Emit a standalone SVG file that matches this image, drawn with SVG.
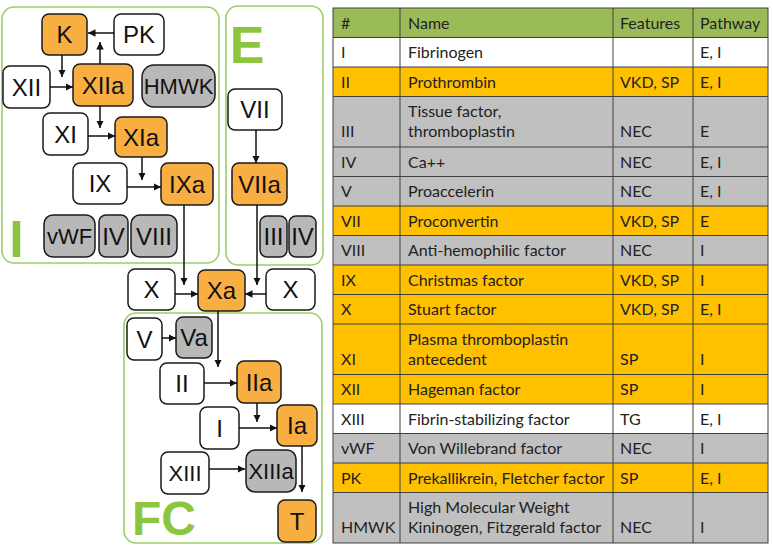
<svg xmlns="http://www.w3.org/2000/svg" width="773" height="553" viewBox="0 0 773 553">
<style>
.grp{fill:none;stroke:#9ccd6a;stroke-width:1.6}
.glbl{font-family:"Liberation Sans",Arial,sans-serif;font-weight:bold;fill:#8cc63f}
.n rect{stroke:#1a1a1a;stroke-width:1.5}
.w rect{fill:#ffffff}
.o rect{fill:#f9ae42}
.g rect{fill:#b8b8b8}
.n text{font-family:"Liberation Sans",Arial,sans-serif;font-size:24px;fill:#111;text-anchor:middle}
.n text.s{font-size:22px}
.c path{fill:none;stroke:#111;stroke-width:1.5;marker-end:url(#ah)}
.tb text{font-family:Lato,"Open Sans",sans-serif;font-size:16px;fill:#222}
.rg{fill:#9bbb59}.ro{fill:#ffc000}.rw{fill:#ffffff}.rs{fill:#c0c0c0}
.gl{stroke:#404040;stroke-width:1;fill:none}
</style>
<defs>
<marker id="ah" viewBox="0 0 8 8" refX="8" refY="4" markerWidth="7.5" markerHeight="7.5" markerUnits="userSpaceOnUse" orient="auto">
<path d="M0,0 L8,4 L0,8 z" fill="#111"/>
</marker>
</defs>
<rect width="773" height="553" fill="#ffffff"/>

<!-- pathway groups -->
<g id="group-I">
<rect class="grp" x="2" y="7" width="217" height="256" rx="12"/>
<text class="glbl" x="16.5" y="257" font-size="52" text-anchor="middle">I</text>
</g>
<g id="group-E">
<rect class="grp" x="226" y="6" width="97" height="259" rx="12"/>
<text class="glbl" x="247" y="63" font-size="52" text-anchor="middle">E</text>
</g>
<g id="group-FC">
<rect class="grp" x="124" y="313" width="198" height="230" rx="12"/>
<text class="glbl" x="164" y="535" font-size="48" text-anchor="middle">FC</text>
</g>

<!-- nodes -->
<g id="n-K" class="n o"><rect x="42" y="14" width="45" height="41" rx="7"/><text x="64.5" y="43">K</text></g>
<g id="n-PK" class="n w"><rect x="114" y="14" width="50" height="41" rx="7"/><text x="139" y="43">PK</text></g>
<g id="n-XII" class="n w"><rect x="3" y="66" width="47" height="42" rx="7"/><text x="26.5" y="95.5">XII</text></g>
<g id="n-XIIa" class="n o"><rect x="73" y="64" width="60" height="42" rx="7"/><text x="103" y="93.5">XIIa</text></g>
<g id="n-HMWK" class="n g"><rect x="142" y="65" width="73" height="42" rx="12"/><text class="s" x="178.5" y="94">HMWK</text></g>
<g id="n-XI" class="n w"><rect x="43" y="113" width="45" height="42" rx="7"/><text x="65.5" y="142.5">XI</text></g>
<g id="n-XIa" class="n o"><rect x="115" y="117" width="52" height="40" rx="7"/><text x="141" y="145.5">XIa</text></g>
<g id="n-IX" class="n w"><rect x="73" y="163" width="54" height="41" rx="7"/><text x="100" y="192">IX</text></g>
<g id="n-IXa" class="n o"><rect x="161" y="163" width="52" height="42" rx="7"/><text x="187" y="192.5">IXa</text></g>
<g id="n-vWF" class="n g"><rect x="44" y="215" width="51" height="42" rx="9"/><text class="s" x="69.5" y="244">vWF</text></g>
<g id="n-IV-i" class="n g"><rect x="99" y="215" width="29" height="42" rx="7"/><text x="113.5" y="244.5">IV</text></g>
<g id="n-VIII" class="n g"><rect x="131" y="215" width="46" height="42" rx="9"/><text x="154" y="244.5">VIII</text></g>
<g id="n-VII" class="n w"><rect x="228" y="89" width="54" height="41" rx="7"/><text x="255" y="118">VII</text></g>
<g id="n-VIIa" class="n o"><rect x="232" y="163" width="55" height="42" rx="7"/><text x="259.5" y="192.5">VIIa</text></g>
<g id="n-III-e" class="n g"><rect x="260" y="216" width="27" height="41" rx="7"/><text x="273.5" y="245">III</text></g>
<g id="n-IV-e" class="n g"><rect x="289" y="216" width="27" height="41" rx="7"/><text x="302.5" y="245">IV</text></g>
<g id="n-X-l" class="n w"><rect x="128" y="269" width="47" height="41" rx="7"/><text x="151.5" y="298">X</text></g>
<g id="n-Xa" class="n o"><rect x="198" y="270" width="47" height="41" rx="7"/><text x="221.5" y="299">Xa</text></g>
<g id="n-X-r" class="n w"><rect x="266" y="269" width="49" height="41" rx="7"/><text x="290.5" y="298">X</text></g>
<g id="n-V" class="n w"><rect x="127" y="318" width="35" height="42" rx="7"/><text x="144.5" y="347.5">V</text></g>
<g id="n-Va" class="n g"><rect x="176" y="317" width="36" height="41" rx="7"/><text x="194" y="346">Va</text></g>
<g id="n-II" class="n w"><rect x="160" y="363" width="44" height="41" rx="7"/><text x="182" y="392">II</text></g>
<g id="n-IIa" class="n o"><rect x="237" y="361" width="44" height="42" rx="7"/><text x="259" y="390.5">IIa</text></g>
<g id="n-I" class="n w"><rect x="200" y="407" width="39" height="42" rx="7"/><text x="219.5" y="436.5">I</text></g>
<g id="n-Ia" class="n o"><rect x="277" y="405" width="40" height="41" rx="7"/><text x="297" y="434">Ia</text></g>
<g id="n-XIII" class="n w"><rect x="161" y="452" width="48" height="42" rx="7"/><text class="s" x="185" y="481">XIII</text></g>
<g id="n-XIIIa" class="n g"><rect x="246" y="450" width="50" height="42" rx="9"/><text class="s" x="271" y="479">XIIIa</text></g>
<g id="n-T" class="n o"><rect x="278" y="500" width="38" height="42" rx="7"/><text x="297" y="529.5">T</text></g>

<!-- connectors -->
<g id="connectors" class="c">
<path d="M114,33 H88"/>
<path d="M100,64 V42"/>
<path d="M62,55 V77"/>
<path d="M50,87 H73"/>
<path d="M100,106 V128"/>
<path d="M88,136 H115"/>
<path d="M142,157 V180"/>
<path d="M127,187 H161"/>
<path d="M184,205 V285"/>
<path d="M175,294 H198"/>
<path d="M256,130 V163"/>
<path d="M257,205 V285"/>
<path d="M266,294 H245"/>
<path d="M218,311 V367"/>
<path d="M162,338 H176"/>
<path d="M204,383 H237"/>
<path d="M257,403 V422"/>
<path d="M239,428 H277"/>
<path d="M209,469 H245"/>
<path d="M302,446 V492"/>
</g>

<!-- table -->
<g id="table" class="tb">
<rect class="rg" x="333" y="8" width="435" height="29.5"/>
<rect class="rw" x="333" y="37.5" width="435" height="29.5"/>
<rect class="ro" x="333" y="67" width="435" height="29.5"/>
<rect class="rs" x="333" y="96.5" width="435" height="50.5"/>
<rect class="rs" x="333" y="147" width="435" height="29.5"/>
<rect class="rs" x="333" y="176.5" width="435" height="29.5"/>
<rect class="ro" x="333" y="206" width="435" height="29.5"/>
<rect class="rs" x="333" y="235.5" width="435" height="29.5"/>
<rect class="ro" x="333" y="265" width="435" height="29.5"/>
<rect class="ro" x="333" y="294.5" width="435" height="29.5"/>
<rect class="ro" x="333" y="324" width="435" height="50.5"/>
<rect class="ro" x="333" y="374.5" width="435" height="29.5"/>
<rect class="rw" x="333" y="404" width="435" height="29.5"/>
<rect class="rs" x="333" y="433.5" width="435" height="29.5"/>
<rect class="ro" x="333" y="463" width="435" height="29.5"/>
<rect class="rs" x="333" y="492.5" width="435" height="50.5"/>
<path class="gl" d="M333,37.5 H768 M333,67 H768 M333,96.5 H768 M333,147 H768 M333,176.5 H768 M333,206 H768 M333,235.5 H768 M333,265 H768 M333,294.5 H768 M333,324 H768 M333,374.5 H768 M333,404 H768 M333,433.5 H768 M333,463 H768 M333,492.5 H768 M400,8 V543 M613,8 V543 M693,8 V543"/>
<rect class="gl" x="333" y="8" width="435" height="535" stroke-width="1.5"/>

<text x="341" y="29">#</text><text x="408" y="29">Name</text><text x="620" y="29">Features</text><text x="700" y="29">Pathway</text>
<text x="341" y="58">I</text><text x="408" y="58">Fibrinogen</text><text x="700" y="58">E, I</text>
<text x="341" y="87.5">II</text><text x="408" y="87.5">Prothrombin</text><text x="620" y="87.5">VKD, SP</text><text x="700" y="87.5">E, I</text>
<text x="408" y="117">Tissue factor,</text><text x="341" y="137">III</text><text x="408" y="137">thromboplastin</text><text x="620" y="137">NEC</text><text x="700" y="137">E</text>
<text x="341" y="167.5">IV</text><text x="408" y="167.5">Ca++</text><text x="620" y="167.5">NEC</text><text x="700" y="167.5">E, I</text>
<text x="341" y="197">V</text><text x="408" y="197">Proaccelerin</text><text x="620" y="197">NEC</text><text x="700" y="197">E, I</text>
<text x="341" y="226.5">VII</text><text x="408" y="226.5">Proconvertin</text><text x="620" y="226.5">VKD, SP</text><text x="700" y="226.5">E</text>
<text x="341" y="256">VIII</text><text x="408" y="256">Anti-hemophilic factor</text><text x="620" y="256">NEC</text><text x="700" y="256">I</text>
<text x="341" y="285.5">IX</text><text x="408" y="285.5">Christmas factor</text><text x="620" y="285.5">VKD, SP</text><text x="700" y="285.5">I</text>
<text x="341" y="315">X</text><text x="408" y="315">Stuart factor</text><text x="620" y="315">VKD, SP</text><text x="700" y="315">E, I</text>
<text x="408" y="344.5">Plasma thromboplastin</text><text x="341" y="364.5">XI</text><text x="408" y="364.5">antecedent</text><text x="620" y="364.5">SP</text><text x="700" y="364.5">I</text>
<text x="341" y="395">XII</text><text x="408" y="395">Hageman factor</text><text x="620" y="395">SP</text><text x="700" y="395">I</text>
<text x="341" y="424.5">XIII</text><text x="408" y="424.5">Fibrin-stabilizing factor</text><text x="620" y="424.5">TG</text><text x="700" y="424.5">E, I</text>
<text x="341" y="454">vWF</text><text x="408" y="454">Von Willebrand factor</text><text x="620" y="454">NEC</text><text x="700" y="454">I</text>
<text x="341" y="483.5">PK</text><text x="408" y="483.5">Prekallikrein, Fletcher factor</text><text x="620" y="483.5">SP</text><text x="700" y="483.5">E, I</text>
<text x="408" y="513">High Molecular Weight</text><text x="341" y="533">HMWK</text><text x="408" y="533">Kininogen, Fitzgerald factor</text><text x="620" y="533">NEC</text><text x="700" y="533">I</text>
</g>
</svg>
